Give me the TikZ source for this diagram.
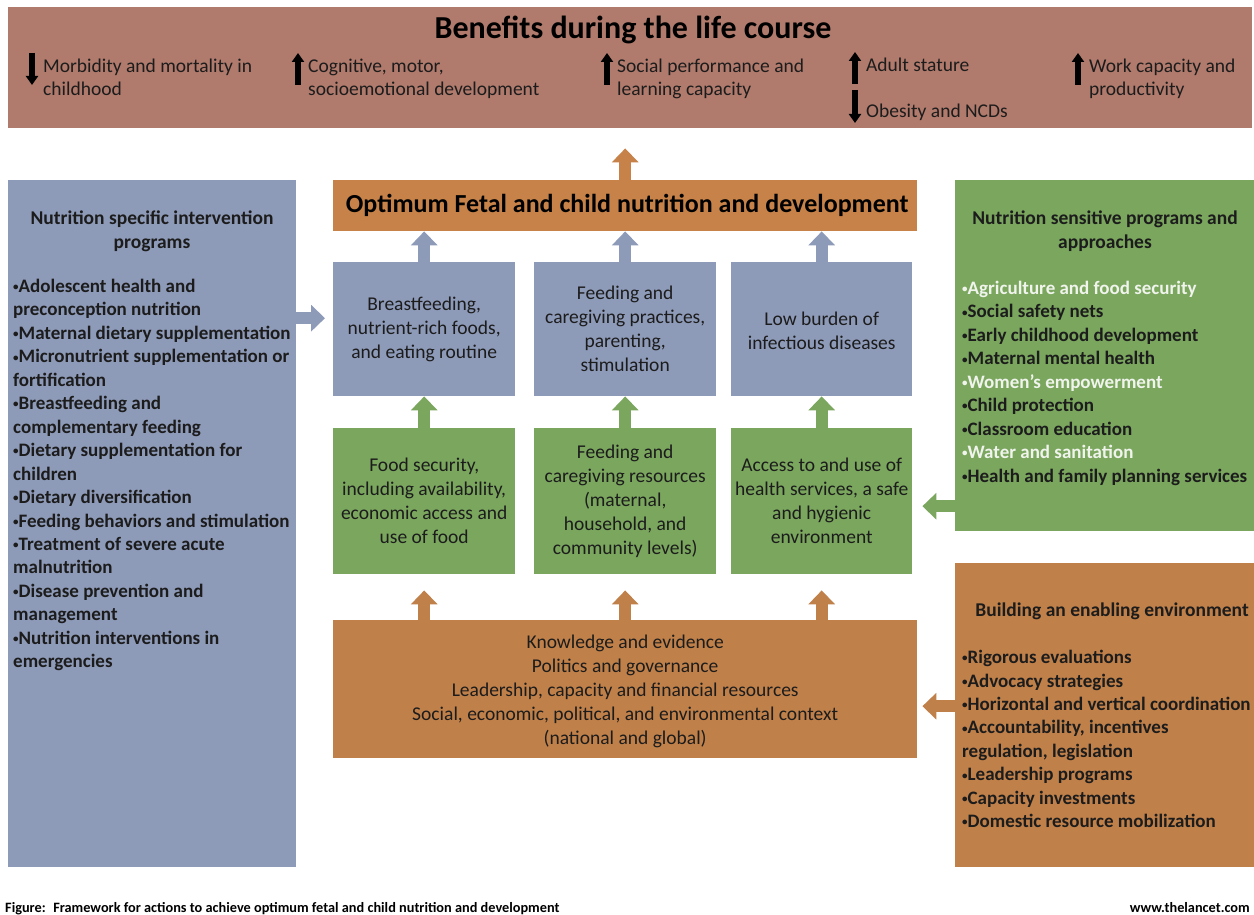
\documentclass[tikz,border=0pt]{standalone}
\usepackage{fontspec}
\setmainfont{Carlito}
\usetikzlibrary{arrows.meta,calc}
\definecolor{banner}{RGB}{176,122,108}
\definecolor{bluebx}{RGB}{141,154,184}
\definecolor{greenbx}{RGB}{122,166,94}
\definecolor{orangebx}{RGB}{192,128,74}
\definecolor{optbx}{RGB}{198,130,72}
\definecolor{ink}{RGB}{28,28,28}
\definecolor{lite}{RGB}{240,244,236}
\newcommand\bul{{\fontsize{11}{11}\selectfont\raisebox{1.8pt}{•}}}
\tikzset{
  box/.style={anchor=north west, inner sep=0pt, draw=none},
  ctext/.style={align=center, text=ink, font=\fontsize{19.5}{24}\selectfont},
  ltext/.style={align=left, text=ink, inner sep=0pt, anchor=north west},
  listtext/.style={ltext, font=\bfseries\fontsize{19}{23.45}\selectfont},
  bentext/.style={ltext, font=\fontsize{19.5}{23}\selectfont},
  headtext/.style={align=center, text=ink, inner sep=0pt, anchor=north, font=\bfseries\fontsize{19.5}{24}\selectfont},
  barrow/.style={line width=12pt, -{Triangle[width=26pt,length=14pt]}},
  iconarrow/.style={draw=black, line width=5.5pt, -{Triangle[width=12pt,length=9pt]}},
}
\begin{document}
\begin{tikzpicture}[x=1pt,y=-1pt]
\useasboundingbox[fill=white] (0,0) rectangle (1254,915);

% top banner
\node[box, fill=banner, minimum width=1244, minimum height=121] (banner) at (8,7) {};
\node[text=black, font=\bfseries\fontsize{32}{34}\selectfont] (btitle) at (633,30) {Benefits during the life course};
\node[bentext] (m1) at (43,59) {Morbidity and mortality in\\childhood};
\node[bentext] (m2) at (308,59) {Cognitive, motor,\\socioemotional development};
\node[bentext] (m3) at (617,59) {Social performance and\\learning capacity};
\node[bentext] (m4) at (866,58) {Adult stature};
\node[bentext] (m5) at (866,104) {Obesity and NCDs};
\node[bentext] (m6) at (1089,59) {Work capacity and\\productivity};
\draw[iconarrow] ([shift={(-11,-6)}]m1.north west) -- ++(0,32);
\draw[iconarrow] ([shift={(-10,26)}]m2.north west) -- ++(0,-32);
\draw[iconarrow] ([shift={(-10,26)}]m3.north west) -- ++(0,-32);
\draw[iconarrow] ([shift={(-11,26)}]m4.north west) -- ++(0,-32);
\draw[iconarrow] ([shift={(-11,-14)}]m5.north west) -- ++(0,33);
\draw[iconarrow] ([shift={(-11,26)}]m6.north west) -- ++(0,-32);

% optimum box
\node[box, fill=optbx, minimum width=584, minimum height=51] (opt) at (333,180) {};
\node[text=black, font=\bfseries\fontsize{26}{28}\selectfont] (optt) at ([xshift=2]opt.center) {Optimum Fetal and child nutrition and development};

% blue boxes
\node[box, fill=bluebx, minimum width=182, minimum height=134] (b1) at (333,262) {};
\node[box, fill=bluebx, minimum width=182, minimum height=134] (b2) at (534,262) {};
\node[box, fill=bluebx, minimum width=181, minimum height=134] (b3) at (731,262) {};
\node[ctext] at (b1.center) {Breastfeeding,\\nutrient-rich foods,\\and eating routine};
\node[ctext] at (b2.center) {Feeding and\\caregiving practices,\\parenting,\\stimulation};
\node[ctext] at ([yshift=-2]b3.center) {Low burden of\\infectious diseases};

% green boxes
\node[box, fill=greenbx, minimum width=182, minimum height=146] (g1) at (333,428) {};
\node[box, fill=greenbx, minimum width=182, minimum height=146] (g2) at (534,428) {};
\node[box, fill=greenbx, minimum width=181, minimum height=146] (g3) at (731,428) {};
\node[ctext] at (g1.center) {Food security,\\including availability,\\economic access and\\use of food};
\node[ctext] at (g2.center) {Feeding and\\caregiving resources\\(maternal,\\household, and\\community levels)};
\node[ctext] at (g3.center) {Access to and use of\\health services, a safe\\and hygienic\\environment};

% bottom orange box
\node[box, fill=orangebx, minimum width=584, minimum height=138] (env) at (333,620) {};
\node[ctext] at ([yshift=-2]env.center) {Knowledge and evidence\\Politics and governance\\Leadership, capacity and financial resources\\Social, economic, political, and environmental context\\(national and global)};

% left box
\node[box, fill=bluebx, minimum width=288, minimum height=687] (spec) at (8,180) {};
\node[headtext] (spect) at (152,211) {Nutrition specific intervention\\programs};
\node[listtext] (specl) at (13,279) {\bul Adolescent health and\\preconception nutrition\\\bul Maternal dietary supplementation\\\bul Micronutrient supplementation or\\fortification\\\bul Breastfeeding and\\complementary feeding\\\bul Dietary supplementation for\\children\\\bul Dietary diversification\\\bul Feeding behaviors and stimulation\\\bul Treatment of severe acute\\malnutrition\\\bul Disease prevention and\\management\\\bul Nutrition interventions in\\emergencies};

% right green box
\node[box, fill=greenbx, minimum width=299, minimum height=351] (sens) at (955,180) {};
\node[headtext] (senst) at (1105,211) {Nutrition sensitive programs and\\approaches};
\node[listtext] (sensl) at (962,281) {\textcolor{lite}{\bul Agriculture and food security}\\\bul Social safety nets\\\bul Early childhood development\\\bul Maternal mental health\\\textcolor{lite}{\bul Women’s empowerment}\\\bul Child protection\\\bul Classroom education\\\textcolor{lite}{\bul Water and sanitation}\\\bul Health and family planning services};

% right orange box
\node[box, fill=orangebx, minimum width=299, minimum height=304] (enab) at (955,563) {};
\node[headtext] (enabt) at (1112,603) {Building an enabling environment};
\node[listtext] (enabl) at (962,650) {\bul Rigorous evaluations\\\bul Advocacy strategies\\\bul Horizontal and vertical coordination\\\bul Accountability, incentives\\regulation, legislation\\\bul Leadership programs\\\bul Capacity investments\\\bul Domestic resource mobilization};

% arrows
\draw[barrow, draw=optbx, shorten >=20pt] (opt.north) -- (banner.south -| opt.north);
\foreach \i in {1,2,3}{
  \draw[barrow, draw=bluebx] (b\i.north) -- (b\i.north |- opt.south);
  \draw[barrow, draw=greenbx] (g\i.north) -- (b\i.south);
  \draw[barrow, draw=orangebx, shorten >=16pt] (g\i.south |- env.north) -- (g\i.south);
}
\draw[barrow, draw=bluebx, shorten >=8pt] ($(spec.east |- b1.west)+(0,-11)$) -- ($(b1.west)+(0,-11)$);
\draw[barrow, draw=greenbx, shorten >=10pt] ($(sens.west |- g3.east)+(0,5)$) -- ($(g3.east)+(0,5)$);
\draw[barrow, draw=orangebx, shorten >=5pt] ($(enab.west |- env.east)+(0,17)$) -- ($(env.east)+(0,17)$);

% captions
\node[anchor=base west, inner sep=0pt, text=black, font=\bfseries\fontsize{14.3}{15}\selectfont] (cap) at (5,912) {Figure:~ Framework for actions to achieve optimum fetal and child nutrition and development};
\node[anchor=base east, inner sep=0pt, text=black, font=\bfseries\fontsize{14.3}{15}\selectfont] (web) at (1250,912) {www.thelancet.com};
\end{tikzpicture}
\end{document}
